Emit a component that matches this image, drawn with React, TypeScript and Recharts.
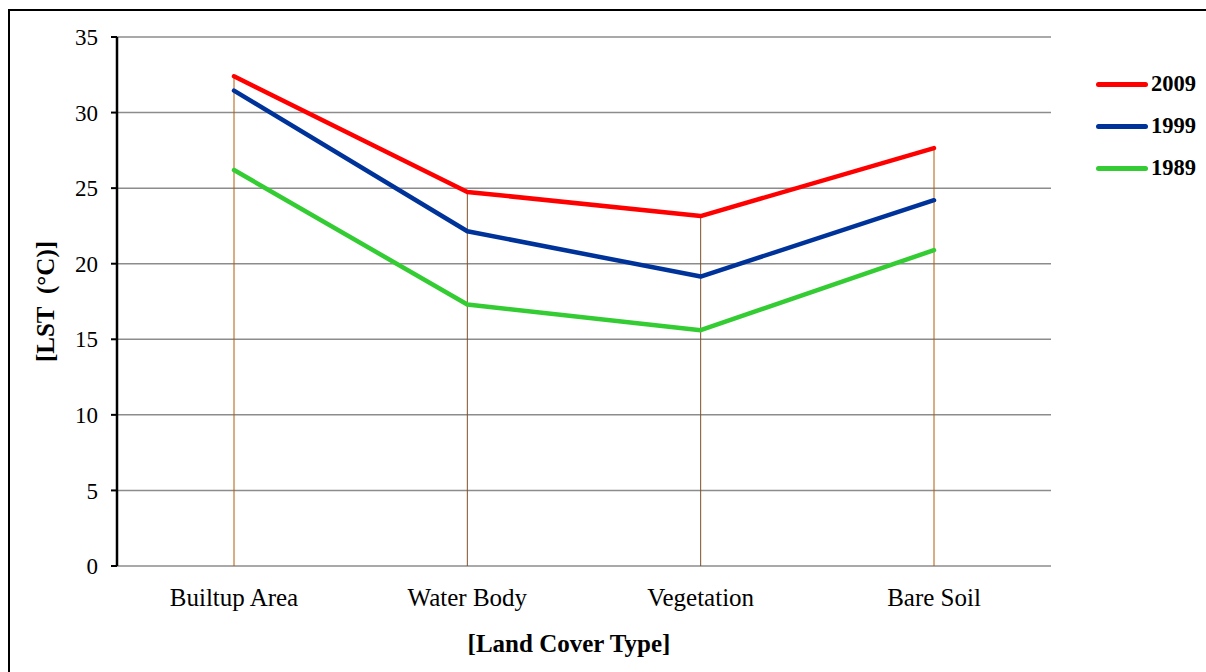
import React from 'react';
import { LineChart, Line, XAxis, YAxis, CartesianGrid, ReferenceLine, Label } from 'recharts';

// Land surface temperature by land cover type
const CATEGORIES = ['Builtup Area', 'Water Body', 'Vegetation', 'Bare Soil'];
const LST_2009 = [32.4, 24.75, 23.15, 27.65];
const LST_1999 = [31.45, 22.15, 19.15, 24.2];
const LST_1989 = [26.2, 17.3, 15.6, 20.9];
const Y_TICKS = [0, 5, 10, 15, 20, 25, 30, 35];

const SERIES = [
  { key: 'y2009', name: '2009', color: '#FF0000' },
  { key: 'y1999', name: '1999', color: '#00339A' },
  { key: 'y1989', name: '1989', color: '#33CC33' },
];

const DROP_COLORS = ['#B35C0A', '#7F5028', '#7F5028', '#B35C0A'];

const data = CATEGORIES.map((cat, i) => ({
  cat,
  y2009: LST_2009[i],
  y1999: LST_1999[i],
  y1989: LST_1989[i],
}));

const FONT = '"Liberation Serif", "Times New Roman", serif';

const LegendBox = () => (
  <div style={{ position: 'absolute', left: 1096, top: 63, fontFamily: FONT }}>
    {SERIES.map((s) => (
      <div key={s.key} style={{ display: 'flex', alignItems: 'center', height: 42 }}>
        <div style={{ width: 52, height: 5, borderRadius: 3, background: s.color, marginRight: 3 }} />
        <span style={{ fontSize: 22.5, fontWeight: 'bold', color: '#000' }}>{s.name}</span>
      </div>
    ))}
  </div>
);

const App: React.FC = () => {
  return (
    <div style={{ position: 'absolute', left: 0, top: 0, width: 1206, height: 672, overflow: 'hidden', background: '#fff' }}>
      <div style={{ position: 'absolute', left: 8, top: 9, width: 1300, height: 800, border: '2px solid #000', boxSizing: 'border-box' }} />
      <div style={{ position: 'absolute', left: 0, top: 0 }}>
        <LineChart width={1206} height={672} data={data} margin={{ top: 37, right: 155, bottom: 66, left: 57 }}>
          <CartesianGrid vertical={false} stroke="#8C8C8C" strokeWidth={1.5} />
          <XAxis
            dataKey="cat"
            height={40}
            padding={{ left: 117, right: 117 }}
            axisLine={false}
            tickLine={false}
            tick={{ fontSize: 25, fill: '#000', fontFamily: FONT }}
            dy={14}
          >
            <Label
              value="[Land Cover Type]"
              position="bottom"
              offset={28}
              dx={-15}
              style={{ fontSize: 25, fontWeight: 'bold', fill: '#000', fontFamily: FONT }}
            />
          </XAxis>
          <YAxis
            width={60}
            domain={[0, 35]}
            ticks={Y_TICKS}
            interval={0}
            axisLine={{ stroke: '#000', strokeWidth: 2.5 }}
            tickLine={{ stroke: '#000', strokeWidth: 2 }}
            tickSize={6}
            tickMargin={13}
            tick={{ fontSize: 23, fill: '#000', fontFamily: FONT }}
          >
            <Label
              value={'[LST\u00A0\u00A0(°C)]'}
              angle={-90}
              position="insideLeft"
              offset={-10}
              dx={-2}
              style={{ fontSize: 25, fontWeight: 'bold', fill: '#000', fontFamily: FONT, textAnchor: 'middle' }}
            />
          </YAxis>
          {data.map((d, i) => (
            <ReferenceLine
              key={d.cat}
              segment={[{ x: d.cat, y: 0 }, { x: d.cat, y: Math.max(d.y2009, d.y1999, d.y1989) }]}
              stroke={DROP_COLORS[i]}
              strokeWidth={1}
            />
          ))}
          {SERIES.slice().reverse().map((s) => (
            <Line
              key={s.key}
              type="linear"
              dataKey={s.key}
              name={s.name}
              stroke={s.color}
              strokeWidth={4.5}
              strokeLinecap="round"
              strokeLinejoin="round"
              dot={false}
              activeDot={false}
              isAnimationActive={false}
            />
          ))}
        </LineChart>
      </div>
      <LegendBox />
    </div>
  );
};

export default App;
